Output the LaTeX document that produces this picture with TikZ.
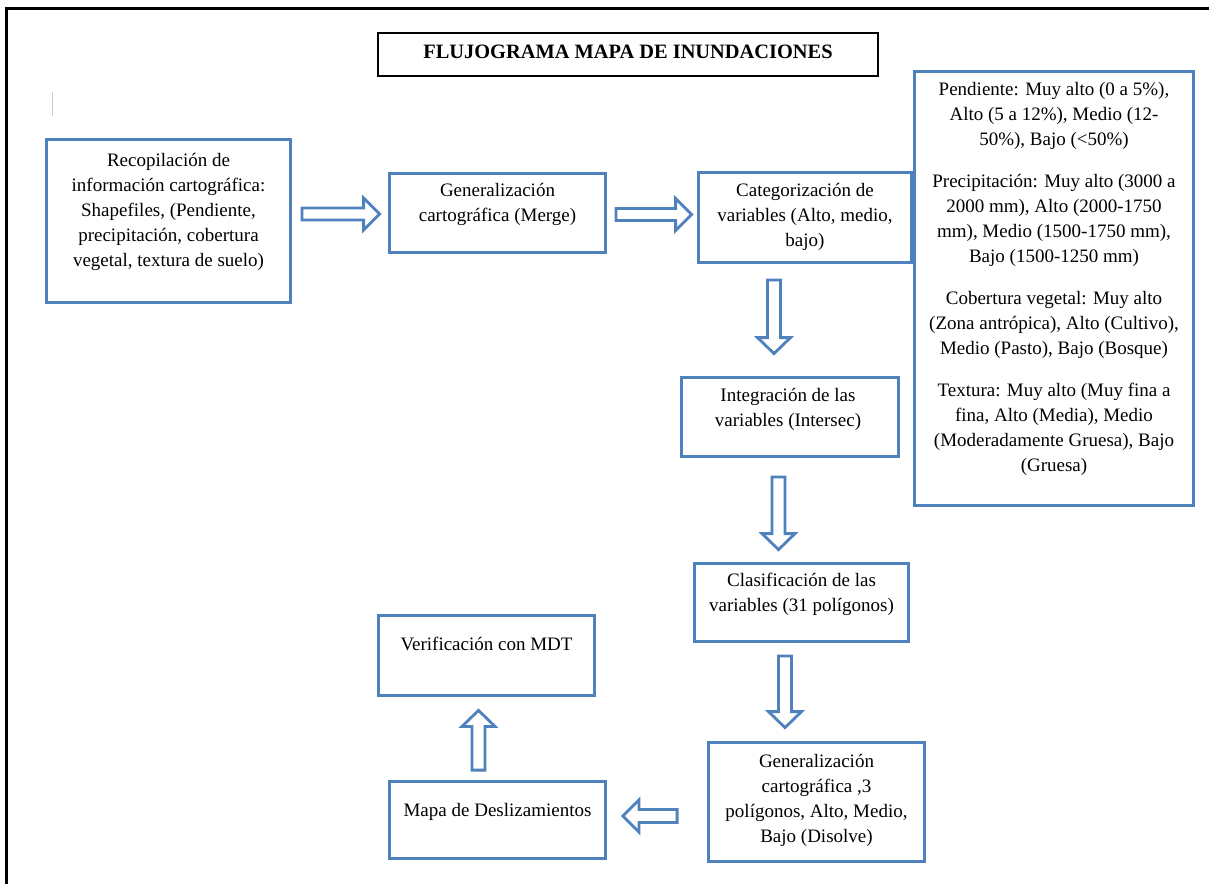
\documentclass[tikz,border=0pt]{standalone}
\usepackage{fontspec}
\setmainfont{Liberation Serif}
\usetikzlibrary{calc}
\definecolor{fblue}{RGB}{79,129,189}
\newcommand{\mystrut}{\rule{0pt}{15pt}}
\newcommand{\barrow}[4]{%
  \path ($(#2)!16pt!(#1)$) coordinate (hb);
  \draw[blockarrow] ($(#1)!#3!90:(#2)$) -- ($(hb)!#3!90:(#2)$) -- ($(hb)!#4!90:(#2)$) -- (#2)
    -- ($(hb)!#4!-90:(#2)$) -- ($(hb)!#3!-90:(#2)$) -- ($(#1)!#3!-90:(#2)$) -- cycle;}
\tikzset{
  bx/.style={draw=fblue, line width=2.8pt, fill=white, inner sep=0pt},
  txt/.style={anchor=north, align=center, inner sep=0pt, font=\fontsize{19}{25}\selectfont},
  blockarrow/.style={draw=fblue, line width=2.8pt, line join=miter, fill=white},
}
\begin{document}
\begin{tikzpicture}[x=1pt,y=-1pt]
\useasboundingbox (0,0) rectangle (1209,884);
% outer frame
\draw[line width=2.5pt] (6.5,884) -- (6.5,8.5) -- (1209,8.5);
% cursor mark
\draw[gray!40, line width=1pt] (52,92) -- (52,116);
% title
\node[draw=black, line width=2pt, minimum width=500pt, minimum height=43pt, inner sep=0pt] (title) at (628,54.5) {};
\node[anchor=base, inner sep=0pt, font=\fontsize{20.4}{24}\selectfont\bfseries] (tt) at (628,58.5) {FLUJOGRAMA MAPA DE INUNDACIONES};
% boxes
\node[bx, minimum width=279pt, minimum height=434pt] (b9) at (1054,288.5) {};
\node[bx, minimum width=244pt, minimum height=163pt] (b1) at (168.5,221) {};
\node[bx, minimum width=216pt, minimum height=79pt] (b2) at (497.5,213) {};
\node[bx, minimum width=213pt, minimum height=90pt] (b3) at (805,217.5) {};
\node[bx, minimum width=217pt, minimum height=79pt] (b4) at (790,417) {};
\node[bx, minimum width=214pt, minimum height=78pt] (b5) at (801.5,602.5) {};
\node[bx, minimum width=216pt, minimum height=119pt] (b6) at (816.5,802) {};
\node[bx, minimum width=216pt, minimum height=77pt] (b7) at (497.5,820) {};
\node[bx, minimum width=216pt, minimum height=80pt] (b8) at (486.5,655.5) {};
% texts
\node[txt] (t1) at ($(b1.north)+(0,13.5)$) {\mystrut Recopilación de\\información cartográfica:\\Shapefiles, (Pendiente,\\precipitación, cobertura\\vegetal, textura de suelo)};
\node[txt] (t2) at ($(b2.north)+(0,9.5)$) {\mystrut Generalización\\cartográfica (Merge)};
\node[txt] (t3) at ($(b3.north)+(0,10.5)$) {\mystrut Categorización de\\variables (Alto, medio,\\bajo)};
\node[txt] (t4) at ($(b4.north)+(-2,10.5)$) {\mystrut Integración de las\\variables (Intersec)};
\node[txt] (t5) at ($(b5.north)+(0,9.5)$) {\mystrut Clasificación de las\\variables (31 polígonos)};
\node[txt] (t6) at ($(b6.north)+(0,11.5)$) {\mystrut Generalización\\cartográfica ,3\\polígonos, Alto, Medio,\\Bajo (Disolve)};
\node[txt] (t7) at ($(b7.north)+(0,21.5)$) {\mystrut Mapa de Deslizamientos};
\node[txt] (t8) at ($(b8.north)+(0,21.5)$) {\mystrut Verificación con MDT};
\node[txt] (t9) at ($(b9.north)+(0,10.5)$) {\mystrut Pendiente: Muy alto (0 a 5\%),\\Alto (5 a 12\%), Medio (12-\\50\%), Bajo (<50\%)\\[17pt]
Precipitación: Muy alto (3000 a\\2000 mm), Alto (2000-1750\\mm), Medio (1500-1750 mm),\\Bajo (1500-1250 mm)\\[17pt]
Cobertura vegetal: Muy alto\\(Zona antrópica), Alto (Cultivo),\\Medio (Pasto), Bajo (Bosque)\\[17pt]
Textura: Muy alto (Muy fina a\\fina, Alto (Media), Medio\\(Moderadamente Gruesa), Bajo\\(Gruesa)};
% arrow end points
\coordinate (a1s) at ($(b1.east)+(10,-7)$);
\coordinate (a1e) at ($(b2.west)+(-8.5,1)$);
\coordinate (a2s) at ($(b2.east)+(9,1.5)$);
\coordinate (a2e) at ($(b3.west)+(-5.5,-3)$);
\coordinate (d1s) at ($(b3.south)+(-31,16)$);
\coordinate (d1e) at ($(b4.north)+(-16,-22.5)$);
\coordinate (d2s) at ($(b4.south)+(-11.5,19)$);
\coordinate (d2e) at ($(b5.north)+(-23,-12.5)$);
\coordinate (d3s) at ($(b5.south)+(-16.5,13)$);
\coordinate (d3e) at ($(b6.north)+(-31.5,-13.5)$);
\coordinate (ls) at ($(b6.west)+(-30,14)$);
\coordinate (le) at ($(b7.east)+(16,-4)$);
\coordinate (us) at ($(b7.north)+(-19,-10)$);
\coordinate (ue) at ($(b8.south)+(-8,13.5)$);
% block arrows
\barrow{a1s}{a1e}{6pt}{16pt}
\barrow{a2s}{a2e}{6pt}{16pt}
\barrow{d1s}{d1e}{6.5pt}{16.5pt}
\barrow{d2s}{d2e}{6.5pt}{16.5pt}
\barrow{d3s}{d3e}{6.5pt}{16.5pt}
\barrow{ls}{le}{6.5pt}{16pt}
\barrow{us}{ue}{6.5pt}{16.5pt}
\end{tikzpicture}
\end{document}
